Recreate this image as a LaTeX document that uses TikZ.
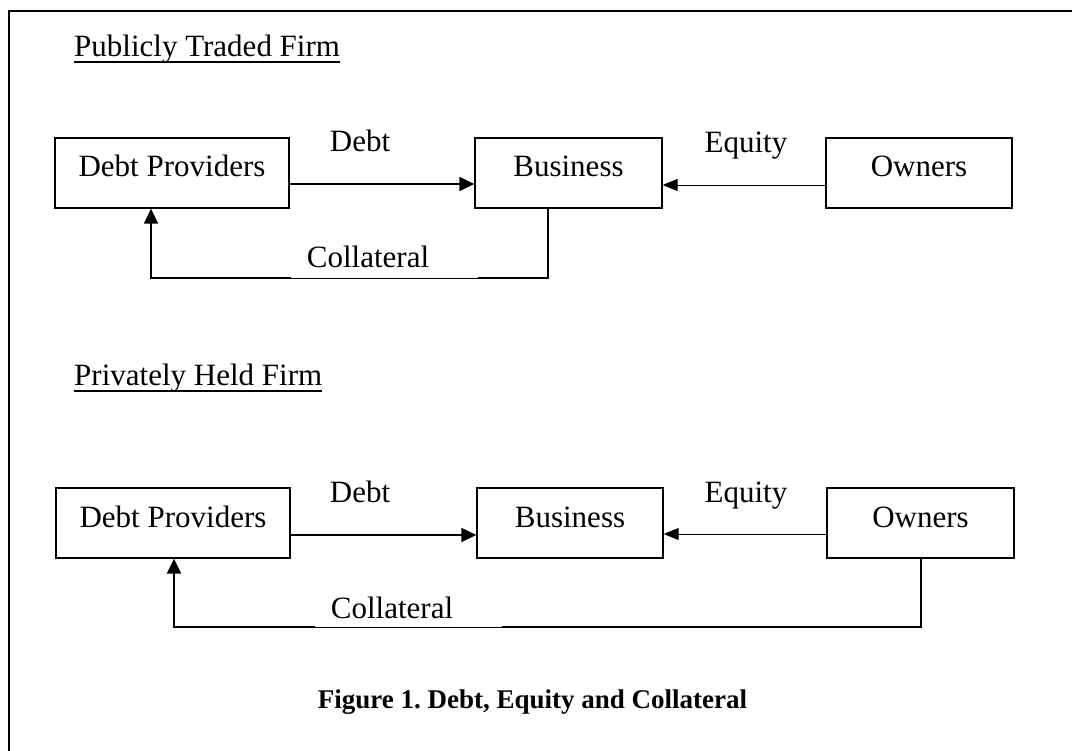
\documentclass[tikz,border=0pt]{standalone}
\usepackage{fontspec}
\setmainfont{Liberation Serif}
\usetikzlibrary{arrows.meta}
\frenchspacing
\begin{document}
\begin{tikzpicture}[x=1pt,y=-1pt,
  every node/.style={font=\fontsize{31}{36}\selectfont, inner sep=0pt},
  entity/.style={draw, line width=1.3pt, minimum width=#1, minimum height=70pt, text height=22pt, text depth=14pt},
  thickflow/.style={line width=1.7pt},
  thinflow/.style={line width=0.9pt},
  uline/.style={line width=1.6pt},
  tipA/.style={-{Triangle[length=15pt,width=14pt]}},
  tipB/.style={-{Triangle[length=15pt,width=12pt]}},
  lbl/.style={anchor=base}]
\useasboundingbox (0,0) rectangle (1072,751);
\fill[white] (0,0) rectangle (1072,751);
% outer frame (only top and left visible)
\draw[line width=2.4pt] (9,752) -- (9,11) -- (1073,11);

% ---------- Publicly traded firm ----------
\node[anchor=base west] (h1) at (74,57) {Publicly Traded Firm};
\draw[uline] ([yshift=-4.8pt]h1.base west) -- ([yshift=-4.8pt]h1.base east);
\node[entity=234pt] (dp1) at (172,173) {Debt Providers};
\node[entity=187pt] (bu1) at (568.5,173) {Business};
\node[entity=186pt] (ow1) at (919,173) {Owners};
\node[lbl] (d1) at (360,152) {Debt};
\node[lbl] (e1) at (746,153) {Equity};
\node[lbl] (c1) at (368,268) {Collateral};
\draw[thickflow,tipA] (dp1.east |- 0,184) -- (bu1.west |- 0,184);
\draw[thinflow,tipB] (ow1.west |- 0,185) -- (bu1.east |- 0,185);
\coordinate (k1a) at (548,278);
\coordinate (k1b) at (478,278);
\coordinate (k1c) at (291,278);
\coordinate (k1d) at (151,278);
\coordinate (k1e) at (151,208);
\draw[thickflow] (bu1.south -| k1a) -- (k1a) -- (k1b);
\draw[thinflow] (k1b) -- (k1c);
\draw[thickflow,tipA] (k1c) -- (k1d) -- (dp1.south -| k1e);

% ---------- Privately held firm ----------
\node[anchor=base west] (h2) at (74,386) {Privately Held Firm};
\draw[uline] ([yshift=-4.8pt]h2.base west) -- ([yshift=-4.8pt]h2.base east);
\node[entity=234pt] (dp2) at (173,523) {Debt Providers};
\node[entity=186pt] (bu2) at (570,523) {Business};
\node[entity=187pt] (ow2) at (920.5,523) {Owners};
\node[lbl] (d2) at (360,503) {Debt};
\node[lbl] (e2) at (746,503) {Equity};
\node[lbl] (c2) at (392,618) {Collateral};
\draw[thickflow,tipA] (dp2.east |- 0,535) -- (bu2.west |- 0,535);
\draw[thinflow,tipB] (ow2.west |- 0,534) -- (bu2.east |- 0,534);
\coordinate (k2a) at (921,627);
\coordinate (k2b) at (502,627);
\coordinate (k2c) at (315,627);
\coordinate (k2d) at (174,627);
\coordinate (k2e) at (174,558);
\draw[thickflow] (ow2.south -| k2a) -- (k2a) -- (k2b);
\draw[thinflow] (k2b) -- (k2c);
\draw[thickflow,tipA] (k2c) -- (k2d) -- (dp2.south -| k2e);

% ---------- caption ----------
\node[lbl, font=\fontsize{27}{32}\selectfont\bfseries] (cap) at (532.5,708) {Figure 1. Debt, Equity and Collateral};
\end{tikzpicture}
\end{document}
